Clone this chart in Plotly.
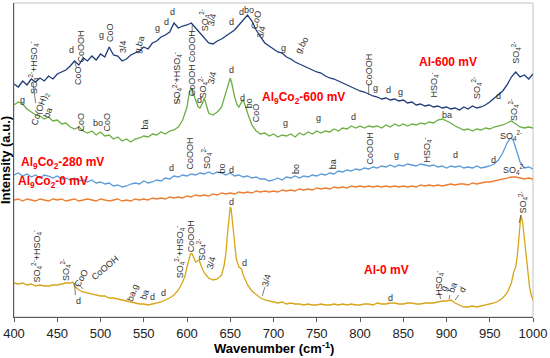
import plotly.graph_objects as go

# ---------------- data (intensity in arbitrary, offset units) ----------------
wn_grid = list(range(400, 1001, 5))

int_al600 = [
    233, 230, 236, 232, 238, 235, 239, 236, 241, 238,
    243, 245, 247, 251, 256, 252, 259, 256, 261, 257,
    263, 260, 270, 262, 261, 256, 258, 262, 264, 266,
    270, 268, 274, 276, 280, 282, 285, 294, 289, 291,
    292, 294, 289, 284, 279, 274, 273, 276, 278, 281,
    284, 287, 292, 297, 302, 296, 287, 280, 274, 271,
    268, 265, 264, 260, 258, 255, 253, 251, 249, 247,
    245, 244, 241, 239, 238, 236, 234, 232, 230, 228,
    226, 225, 223, 221, 220, 218, 219, 217, 218, 216,
    217, 214, 215, 212, 213, 211, 212, 210, 211, 209,
    210, 208, 209, 207, 210, 208, 211, 209, 210, 212,
    215, 219, 222, 226, 232, 240, 245, 240, 242, 238,
    243,
]

int_al9co2_0 = [
    117, 118, 116, 118, 117, 116, 118, 117, 116, 118,
    117, 118, 116, 117, 118, 116, 117, 118, 117, 116,
    118, 117, 116, 117, 118, 116, 117, 116, 118, 117,
    118, 117, 119, 118, 119, 118, 120, 119, 120, 119,
    121, 120, 122, 121, 122, 121, 123, 122, 124, 123,
    124, 123, 125, 124, 125, 124, 126, 125, 126, 125,
    126, 125, 127, 126, 127, 126, 128, 127, 128, 127,
    129, 128, 129, 128, 130, 129, 130, 129, 131, 130,
    131, 130, 131, 130, 131, 130, 131, 130, 131, 130,
    131, 130, 131, 130, 132, 131, 132, 131, 132, 131,
    132, 133, 132, 133, 133, 132, 134, 133, 134, 135,
    135, 136, 137, 138, 139, 140, 140, 139, 138, 139,
    138,
]

wn_al9co2_600 = (list(range(400, 600, 5))
                 + [600, 603, 605, 607, 610, 613, 615, 618, 620, 622, 625, 630, 635,
                    640, 645, 648, 650, 652, 655, 658, 660, 663, 665, 668, 670, 675]
                 + list(range(680, 1001, 5)))
int_al9co2_600 = [
    212, 215, 213, 208, 205, 202, 201, 198, 200, 196,
    197, 193, 194, 190, 188, 190, 186, 184, 186, 182,
    185, 181, 182, 178, 180, 176, 178, 175, 178, 179,
    181, 180, 183, 182, 185, 183, 186, 187, 190, 197,
    210, 226, 229, 224, 216, 210, 209, 214, 219, 212, 204, 202, 205,
    210, 224, 234, 239, 233, 220, 212, 210, 215, 217, 210, 204, 192,
    186, 183, 184, 181, 183, 180, 182, 181, 183, 180,
    184, 182, 185, 183, 186, 184, 186, 185, 188, 186,
    189, 188, 191, 189, 191, 189, 191, 190, 191, 189,
    192, 190, 193, 191, 193, 191, 193, 192, 194, 193,
    195, 194, 197, 198, 196, 194, 191, 189, 187, 188,
    186, 188, 187, 189, 188, 190, 191, 192, 194, 196,
    193, 190, 189, 190, 189,
]

wn_al9co2_280 = (list(range(400, 960, 5))
                 + [960, 965, 968, 970, 973, 975, 977, 980, 983, 985, 988, 990, 995, 1000])
int_al9co2_280 = [
    142, 144, 141, 143, 140, 142, 139, 142, 141, 139,
    141, 138, 139, 137, 139, 136, 137, 135, 137, 134,
    135, 133, 134, 131, 132, 130, 131, 133, 134, 133,
    136, 134, 135, 137, 136, 139, 138, 141, 140, 142,
    141, 143, 142, 144, 143, 145, 143, 145, 144, 142,
    144, 141, 142, 140, 141, 139, 140, 138, 138, 136,
    137, 139, 137, 140, 139, 141, 139, 141, 140, 142,
    141, 143, 142, 144, 143, 146, 145, 147, 146, 148,
    147, 149, 148, 150, 149, 151, 150, 152, 150, 152,
    151, 153, 152, 151, 153, 152, 151, 152, 150, 151,
    149, 151, 150, 151, 149, 150, 149, 151, 149, 150,
    151, 153,
    157, 164, 170, 174, 178, 179, 177, 170, 161, 155, 151, 149, 150, 148,
]

wn_al0 = [
    400, 405, 410, 415, 420, 425, 430, 435, 440, 445,
    450, 455, 460, 465, 468, 470, 473, 475, 480, 485,
    490, 495, 500, 505, 510, 515, 520, 525, 530, 535,
    540, 545, 550, 555, 560, 565, 570, 575, 580, 585,
    590, 595, 598, 600, 602, 604, 606, 608, 610, 612,
    614, 616, 618, 620, 625, 630, 635, 640, 643, 645,
    647, 649, 650, 651, 653, 655, 657, 660, 663, 665,
    668, 670, 675, 680, 685, 690, 695, 700, 705, 710,
    715, 720, 725, 730, 735, 740, 745, 750, 755, 760,
    765, 770, 775, 780, 785, 790, 795, 800, 805, 810,
    815, 820, 825, 830, 835, 840, 845, 850, 855, 860,
    865, 870, 875, 880, 885, 890, 895, 900, 905, 910,
    915, 920, 925, 930, 935, 940, 945, 950, 955, 960,
    965, 970, 975, 978, 980, 982, 984, 986, 988, 990,
    992, 994, 996, 998, 1000,
]
int_al0 = [
    34, 33, 34, 32, 33, 31, 32, 31, 31, 32,
    32, 33, 34, 34, 35, 31, 29, 27, 25, 24,
    23, 22, 21, 21, 19, 19, 18, 17, 16, 15,
    14, 13, 13, 12, 13, 14, 15, 17, 19, 22,
    27, 35, 42, 50, 58, 63, 63, 58, 55, 56,
    57, 52, 47, 44, 39, 37, 38, 42, 52, 64,
    85, 104, 110, 108, 92, 72, 58, 50, 48, 42,
    36, 32, 26, 22, 19, 17, 16, 15, 14, 15,
    13, 14, 13, 13, 12, 13, 12, 12, 13, 12,
    12, 13, 12, 13, 12, 13, 12, 12, 13, 13,
    12, 14, 13, 13, 14, 14, 13, 13, 14, 14,
    13, 13, 14, 14, 14, 15, 16, 16, 17, 14,
    12, 10, 10, 11, 10, 11, 12, 13, 14, 16,
    19, 24, 34, 46, 50, 62, 85, 102, 95, 78,
    60, 42, 30, 22, 17,
]

x_ticks = [400, 450, 500, 550, 600, 650, 700, 750, 800, 850, 900, 950, 1000]

SO4 = "SO<sub>4</sub><sup>2-</sup>"
HSO4 = "HSO<sub>4</sub><sup>-</sup>"
SOH = SO4 + "+" + HSO4

series_names = ["Al-600 mV", "Al<sub>9</sub>Co<sub>2</sub>-600 mV",
                "Al<sub>9</sub>Co<sub>2</sub>-280 mV", "Al<sub>9</sub>Co<sub>2</sub>-0 mV",
                "Al-0 mV"]
series_colors = ["#1F3C78", "#6DAE45", "#5A9BD8", "#ED7D31", "#D6A51A"]

# (wavenumber, intensity, text, angle)
peak_labels = [
    # Al-600 mV
    (422, 249, SOH, -90), (467, 267, "d", 0), (474, 241, "CoO", -90),
    (478, 271, "CoOOH", -90), (501, 282, "g", 0), (511, 284, "CoO", -90),
    (526, 271, "3/4", -90), (545, 273, "g,ba", -75), (566, 289, "g", 0),
    (576, 295, "d", 0), (583, 305, "d", 0), (606, 271, "CoOOH", -90),
    (620, 297, SO4, -90), (629, 297, "3/4", -75), (652, 295, "d", 0),
    (663, 305, "d", 0), (672, 307, "bo", 0), (680, 297, "CoO", -75),
    (686, 285, "3/4", -75), (712, 269, "g", 0), (733, 272, "g,bo", -60),
    (810, 247, "CoOOH", -90), (818, 229, "g", 0), (833, 227, "d", 0),
    (847, 225, "g", 0), (885, 232, HSO4, -90), (934, 229, SO4, -90),
    (960, 221, "d", 0), (980, 264, SO4, -90),
    # Al9Co2-600 mV
    (410, 217, "g", 0), (430, 209, "Co(OH)<sub>2</sub>", -70), (439, 204, "ba", -70),
    (478, 195, "CoO", -90), (497, 194, "bo", 0), (508, 195, "CoO", -90),
    (551, 192, "ba", -90), (588, 239, SOH, -90), (606, 237, "CoOOH", -90),
    (614, 217, "d", 0), (618, 229, SO4, -90), (629, 239, "3/4", -75),
    (651, 247, "d", 0), (664, 219, "d", 0), (672, 214, "bo", -90),
    (680, 204, "CoO", -90), (714, 194, "g", 0), (752, 199, "g", 0),
    (793, 200, "d", 0), (900, 202, "ba", 0), (977, 207, SO4, -90),
    # Al9Co2-280 mV
    (582, 149, "d", 0), (604, 164, "CoOOH", -90), (622, 159, SO4, -90),
    (640, 148, "bo", -90), (651, 147, "d", 0), (726, 148, "bo", -90),
    (769, 153, "ba", -90), (812, 169, "CoOOH", -90), (842, 162, "g", 0),
    (877, 167, HSO4, -90), (910, 162, "d", 0), (954, 157, "d", 0),
    (975, 182, SO4, 0),
    # Al9Co2-0 mV
    (978, 148, SO4, 0),
    # Al-0 mV
    (426, 61, SOH, -90), (459, 47, SO4, -90), (478, 39, "CoO", -60),
    (505, 49, "CoOOH", -40), (474, 16, "d", 0), (537, 24, "ba,g", -70),
    (551, 22, "ba", -70), (560, 20, "d", 0), (573, 24, "d", 0),
    (591, 65, SOH, -90), (605, 81, "CoOOH", -90), (616, 67, SO4, -90),
    (628, 54, "3/4", -75), (651, 115, "d", 0), (666, 54, "d", 0),
    (692, 37, "3/4", -75), (835, 19, "d", 0), (891, 34, HSO4, -90),
    (897, 29, "g", -70), (907, 29, "ba", -70), (918, 27, "d", -60),
    (988, 114, SO4, -90),
]

# thin leader lines from labels to the spectra: (wn0, int0, wn1, int1)
leader_lines = [
    (422, 234, 425, 214), (470, 256, 472, 250), (606, 292, 606, 285),
    (810, 222, 810, 233), (606, 229, 606, 222), (588, 213, 591, 222),
    (470, 34, 471, 22), (474, 33, 480, 28), (687, 21, 690, 30),
    (893, 18, 892, 24), (903, 18, 904, 22), (910, 17, 914, 22),
    (984, 94, 986, 102),
]

series_label_pos = [(902, 255), (735, 219), (456, 154), (445, 135), (831, 47)]

# ---------------- figure ----------------
fig = go.Figure()
series = [
    (wn_grid, int_al600),
    (wn_al9co2_600, int_al9co2_600),
    (wn_al9co2_280, int_al9co2_280),
    (wn_grid, int_al9co2_0),
    (wn_al0, int_al0),
]
for (xs, ys), col in zip(series, series_colors):
    fig.add_trace(go.Scatter(x=xs, y=ys, mode="lines",
                             line=dict(color=col, width=1.3),
                             hoverinfo="skip", showlegend=False))

annotations = []
for x, y, t, a in peak_labels:
    annotations.append(dict(x=x, y=y, text=t, textangle=a, showarrow=False,
                            xanchor="center", yanchor="middle",
                            font=dict(family="Liberation Sans, Arial", size=9, color="#333333")))
for (x, y), t in zip(series_label_pos, series_names):
    annotations.append(dict(x=x, y=y, text="<b>" + t + "</b>", showarrow=False,
                            xanchor="center", yanchor="middle",
                            font=dict(family="Liberation Sans, Arial", size=12, color="#FF0000")))
annotations.append(dict(xref="paper", yref="paper", x=0.5, y=-0.099,
                        text="<b>Wavenumber (cm<sup>-1</sup>)</b>", showarrow=False,
                        xanchor="center", yanchor="middle",
                        font=dict(family="Liberation Sans, Arial", size=13, color="#000000")))
annotations.append(dict(xref="paper", yref="paper", x=-0.0173, y=0.5,
                        text="<b>Intensity (a.u.)</b>", showarrow=False, textangle=-90,
                        xanchor="center", yanchor="middle",
                        font=dict(family="Liberation Sans, Arial", size=13, color="#000000")))

shapes = [dict(type="rect", xref="paper", yref="paper", x0=0, y0=0, x1=1, y1=1,
               line=dict(color="#C0C0C0", width=1), layer="below")]
for x0, y0, x1, y1 in leader_lines:
    shapes.append(dict(type="line", xref="x", yref="y", x0=x0, y0=y0, x1=x1, y1=y1,
                       line=dict(color="#444444", width=0.7)))

fig.update_layout(
    width=550, height=358,
    margin=dict(l=14, r=15, t=3, b=41),
    paper_bgcolor="white", plot_bgcolor="white",
    annotations=annotations,
    shapes=shapes,
)
fig.update_xaxes(range=[400, 1000], tickvals=x_ticks, ticks="outside", ticklen=4,
                 tickcolor="#595959", showline=True, linecolor="#595959", linewidth=1,
                 showgrid=False, zeroline=False,
                 tickfont=dict(family="Liberation Sans, Arial", size=13, color="#222222"))
fig.update_yaxes(range=[0, 314], showticklabels=False, ticks="", showline=True,
                 linecolor="#595959", linewidth=1, showgrid=False, zeroline=False)

fig.write_html("out.html", config={"displayModeBar": False},
               post_script="document.body.style.margin='0';document.body.style.overflow='hidden';")
